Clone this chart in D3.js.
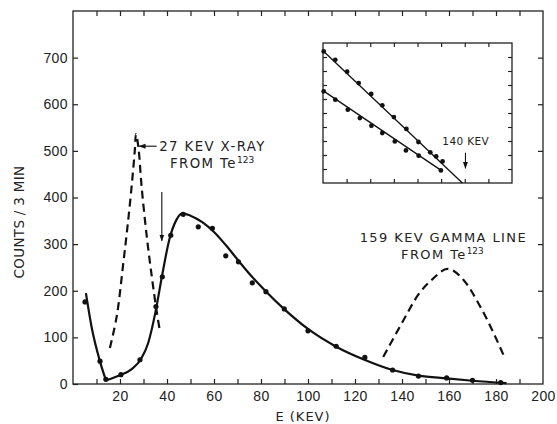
<!DOCTYPE html>
<html>
<head>
<meta charset="utf-8">
<script src="https://cdn.jsdelivr.net/npm/d3@7"></script>
<style>
  body { margin: 0; background: #fff; }
  svg { display: block; font-family: "DejaVu Sans", sans-serif; }
  .axis text { font-size: 14px; fill: #222; letter-spacing: 0.4px; }
  .axis line { stroke: #222; stroke-width: 1.2; }
</style>
</head>
<body>
<div id="viz"></div>
<script>
// measured points of the spectrum
const ptEnergy = [5.1, 11.5, 14, 20.4, 28.5, 35.3, 38, 41.6, 46.9, 53.3, 59.3, 65, 70.4, 76.3, 82.1, 89.9, 100, 112, 124.2, 136, 147, 159, 170, 182];
const ptCounts = [176, 49, 10, 20, 52, 166, 230, 319, 364, 337, 334, 275, 262, 217, 198, 161, 114, 81, 57, 30, 17, 13, 8, 3];

// solid fitted curve (two branches meeting at the minimum)
const fitLeftE = [5.5, 8, 11.5, 14];
const fitLeftC = [195, 120, 48, 8];
const fitRightE = [14, 20, 25, 29, 32, 35, 38, 41, 44, 46.5, 50, 55, 60, 65, 70, 76, 82, 90, 100, 112, 124, 136, 147, 159, 170, 184.5];
const fitRightC = [8, 19, 32, 54, 88, 152, 235, 310, 352, 366, 361, 347, 326, 298, 267, 231, 199, 160, 118, 80, 52, 30, 18, 12, 7, 2];

// dashed: 27 keV x-ray line
const xrayE = [15.7, 18.6, 21.4, 23.5, 25.2, 26.3, 26.8, 27.8, 29.2, 31.4, 33.7, 35.6, 37];
const xrayC = [77, 145, 259, 352, 437, 501, 536, 509, 423, 316, 224, 156, 113];

// dashed: 159 keV gamma line
const gammaE = [132, 140, 147, 153, 159.4, 166.2, 173.3, 179, 183.9];
const gammaC = [58, 131, 192, 225, 247, 223, 166, 109, 54];

// inset (arbitrary units)
const insetUpX = [0.03, 0.52, 1.02, 1.51, 2.04, 2.51, 3.0, 3.53, 4.04, 4.54, 4.79, 5.06];
const insetUpY = [9.4, 8.8, 7.95, 7.14, 6.36, 5.55, 4.71, 3.86, 2.93, 2.19, 1.9, 1.54];
const insetUpLine = [[0, 9.45], [5.9, 0]];
const insetLoX = [0.03, 0.52, 1.05, 1.56, 2.05, 2.51, 3.04, 3.51, 4.05, 4.99];
const insetLoY = [6.55, 5.95, 5.24, 4.64, 4.09, 3.57, 2.97, 2.33, 1.95, 0.9];
const insetLoLine = [[0, 6.6], [5.0, 0.9]];

const xLabelTicks = d3.range(20, 201, 20);
const xMinorTicks = d3.range(10, 200, 10);
const yLabelTicks = d3.range(0, 701, 100);
const yMinorTicks = d3.range(100, 800, 100);

const width = 557;
const height = 424;
const margin = { left: 73, right: 14, top: 11, bottom: 40 };

const svg = d3.select('#viz').append('svg')
  .attr('width', width)
  .attr('height', height);

const x = d3.scaleLinear().domain([0, 200]).range([margin.left, width - margin.right]);
const y = d3.scaleLinear().domain([0, 800]).range([height - margin.bottom, margin.top]);

// frame
svg.append('rect')
  .attr('x', x(0)).attr('y', y(800))
  .attr('width', x(200) - x(0)).attr('height', y(0) - y(800))
  .attr('fill', 'none').attr('stroke', '#222').attr('stroke-width', 1.3);

// axes
const gBottom = svg.append('g').attr('class', 'axis')
  .attr('transform', `translate(0,${y(0)})`)
  .call(d3.axisBottom(x).tickValues(xMinorTicks).tickSizeInner(-5).tickSizeOuter(0).tickFormat(''));
gBottom.select('.domain').remove();
const gBottomLab = svg.append('g').attr('class', 'axis')
  .attr('transform', `translate(0,${y(0)})`)
  .call(d3.axisBottom(x).tickValues(xLabelTicks).tickSizeInner(0).tickSizeOuter(0).tickPadding(7));
gBottomLab.select('.domain').remove();

const gTop = svg.append('g').attr('class', 'axis')
  .attr('transform', `translate(0,${y(800)})`)
  .call(d3.axisTop(x).tickValues(xMinorTicks).tickSizeInner(-5).tickSizeOuter(0).tickFormat(''));
gTop.select('.domain').remove();

const gLeft = svg.append('g').attr('class', 'axis')
  .attr('transform', `translate(${x(0)},0)`)
  .call(d3.axisLeft(y).tickValues(yLabelTicks).tickSizeInner(-5).tickSizeOuter(0).tickPadding(5));
gLeft.select('.domain').remove();

const gRight = svg.append('g').attr('class', 'axis')
  .attr('transform', `translate(${x(200)},0)`)
  .call(d3.axisRight(y).tickValues(yMinorTicks).tickSizeInner(-5).tickSizeOuter(0).tickFormat(''));
gRight.select('.domain').remove();

// axis titles
svg.append('text')
  .attr('transform', `translate(24,222) rotate(-90)`)
  .attr('text-anchor', 'middle')
  .attr('font-size', 13.5).attr('fill', '#222').attr('letter-spacing', 0.3)
  .text('COUNTS / 3 MIN');
svg.append('text')
  .attr('x', 303).attr('y', 421)
  .attr('text-anchor', 'middle')
  .attr('font-size', 13).attr('letter-spacing', 1).attr('fill', '#222')
  .text('E (KEV)');

const lineGen = d3.line().x(d => x(d[0])).y(d => y(d[1]));

// solid fit
[[fitLeftE, fitLeftC], [fitRightE, fitRightC]].forEach(([es, cs]) => {
  svg.append('path')
    .datum(es.map((e, i) => [e, cs[i]]))
    .attr('d', lineGen.curve(d3.curveMonotoneX))
    .attr('fill', 'none').attr('stroke', '#111').attr('stroke-width', 2.2);
});

// dashed lines
[[xrayE, xrayC, d3.curveCatmullRom], [gammaE, gammaC, d3.curveMonotoneX]].forEach(([es, cs, crv]) => {
  svg.append('path')
    .datum(es.map((e, i) => [e, cs[i]]))
    .attr('d', lineGen.curve(crv))
    .attr('fill', 'none').attr('stroke', '#111').attr('stroke-width', 2.2)
    .attr('stroke-dasharray', '8,5');
});

// points
svg.selectAll('.pt')
  .data(ptEnergy.map((e, i) => [e, ptCounts[i]]))
  .enter().append('circle')
  .attr('class', 'pt')
  .attr('cx', d => x(d[0])).attr('cy', d => y(d[1]))
  .attr('r', 2.6).attr('fill', '#111');

// arrowheads
const defs = svg.append('defs');
defs.append('marker')
  .attr('id', 'arr').attr('viewBox', '0 0 10 10')
  .attr('refX', 9).attr('refY', 5)
  .attr('markerWidth', 7).attr('markerHeight', 7)
  .attr('markerUnits', 'userSpaceOnUse')
  .attr('orient', 'auto')
  .append('path').attr('d', 'M0,1.5 L10,5 L0,8.5 Z').attr('fill', '#111');

const arrow = (g, sx, sy, x1, y1, x2, y2) => g.append('line')
  .attr('x1', sx(x1)).attr('y1', sy(y1)).attr('x2', sx(x2)).attr('y2', sy(y2))
  .attr('stroke', '#111').attr('stroke-width', 1.1)
  .attr('marker-end', 'url(#arr)');

arrow(svg, x, y, 35.6, 510, 28.2, 510);
arrow(svg, x, y, 37.8, 412, 37.8, 307);

// labels with superscript
const label = (px, py, main, sup, size) => {
  const t = svg.append('text')
    .attr('x', px).attr('y', py)
    .attr('font-size', size).attr('fill', '#222').attr('letter-spacing', 1.4);
  t.append('tspan').text(main);
  if (sup) t.append('tspan').attr('font-size', size * 0.68).attr('dy', -5).attr('letter-spacing', 0).text(sup);
};

label(x(36.7), y(499), '27 KEV X-RAY', null, 13.3);
label(x(41.3), y(464), 'FROM Te', '123', 13.3);
label(x(122), y(305), '159 KEV GAMMA LINE', null, 13);
label(x(139.6), y(268), 'FROM Te', '123', 13);

// inset
const ix = d3.scaleLinear().domain([0, 8]).range([323, 512]);
const iy = d3.scaleLinear().domain([0, 10]).range([183, 43]);
const inset = svg.append('g');
inset.append('rect')
  .attr('x', ix(0)).attr('y', iy(10))
  .attr('width', ix(8) - ix(0)).attr('height', iy(0) - iy(10))
  .attr('fill', 'none').attr('stroke', '#222').attr('stroke-width', 1.3);

const iTickX = d3.range(1, 8);
const iTickY = d3.range(1, 10);
[['axisTop', iy(10)], ['axisBottom', iy(0)]].forEach(([fn, pos]) => {
  const g = inset.append('g').attr('class', 'axis')
    .attr('transform', `translate(0,${pos})`)
    .call(d3[fn](ix).tickValues(iTickX).tickSizeInner(-4).tickSizeOuter(0).tickFormat(''));
  g.select('.domain').remove();
  g.selectAll('line').attr('stroke-width', 1);
});
[['axisLeft', ix(0)], ['axisRight', ix(8)]].forEach(([fn, pos]) => {
  const g = inset.append('g').attr('class', 'axis')
    .attr('transform', `translate(${pos},0)`)
    .call(d3[fn](iy).tickValues(iTickY).tickSizeInner(-4).tickSizeOuter(0).tickFormat(''));
  g.select('.domain').remove();
  g.selectAll('line').attr('stroke-width', 1);
});

const iline = d3.line().x(d => ix(d[0])).y(d => iy(d[1]));
[insetUpLine, insetLoLine].forEach(l => {
  inset.append('path').datum(l).attr('d', iline)
    .attr('fill', 'none').attr('stroke', '#111').attr('stroke-width', 1.3);
});
[[insetUpX, insetUpY], [insetLoX, insetLoY]].forEach(([xs, ys]) => {
  inset.selectAll(null)
    .data(xs.map((v, i) => [v, ys[i]]))
    .enter().append('circle')
    .attr('cx', d => ix(d[0])).attr('cy', d => iy(d[1]))
    .attr('r', 2.4).attr('fill', '#111');
});
arrow(inset, ix, iy, 6.03, 2.16, 6.03, 1.05);
inset.append('text')
  .attr('x', ix(5.05)).attr('y', iy(2.75))
  .attr('font-size', 10.5).attr('fill', '#222').attr('letter-spacing', 0.4)
  .text('140 KEV');
</script>
</body>
</html>
